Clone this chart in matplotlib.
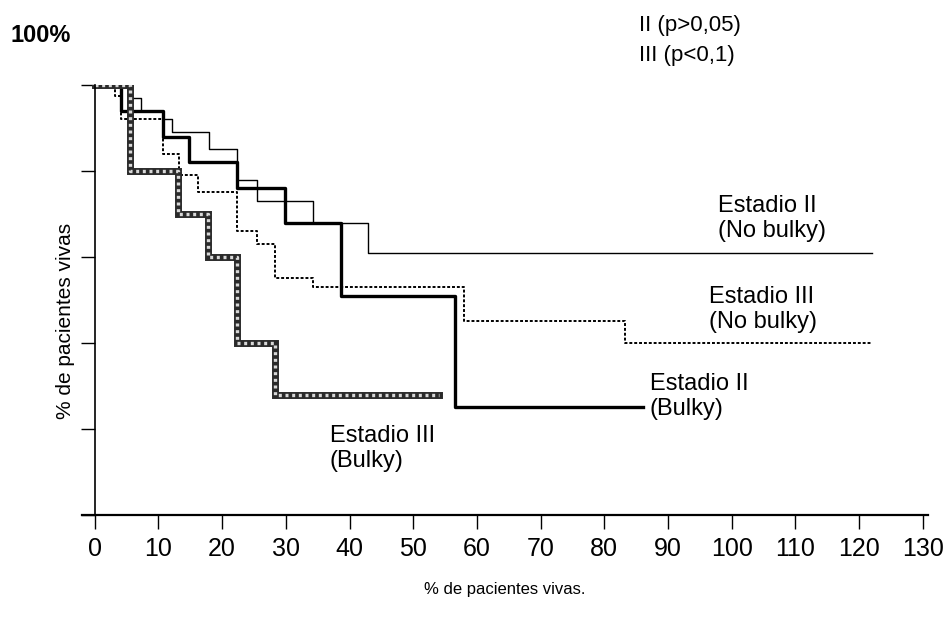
import matplotlib.pyplot as plt

plt.rcParams['font.family'] = ['Liberation Sans', 'DejaVu Sans']

# Survival steps: month where each level starts, and % alive at that level
t_ii_nobulky = [0, 5.6, 7.2, 10.7, 12.1, 17.9, 22.4, 25.4, 34.2, 42.9]
s_ii_nobulky = [100, 97, 94, 92, 89, 85, 78, 73, 68, 61]
end_ii_nobulky = 122

t_ii_bulky = [0, 4.1, 10.7, 14.8, 22.4, 29.8, 38.6, 56.5]
s_ii_bulky = [100, 94, 88, 82, 76, 68, 51, 25]
end_ii_bulky = 86

t_iii_nobulky = [0, 3.1, 4.1, 10.7, 13.2, 16.2, 22.4, 25.4, 28.3, 34.2, 57.9, 83.2]
s_iii_nobulky = [100, 97.5, 92, 84, 79, 75, 66, 63, 55, 53, 45, 40]
end_iii_nobulky = 122

t_iii_bulky = [0, 5.5, 13.0, 17.7, 22.4, 28.3]
s_iii_bulky = [100, 80, 70, 60, 40, 28]
end_iii_bulky = 54

x_ticks = list(range(0, 131, 10))
y_ticks = [0, 20, 40, 60, 80, 100]


def steps(t, s, end):
    return t + [end], s + [s[-1]]


fig = plt.figure(figsize=(9.44, 6.18), dpi=100)
ax = fig.add_axes([0.0869, 0.1667, 0.896, 0.6958])

x, y = steps(t_ii_nobulky, s_ii_nobulky, end_ii_nobulky)
ax.step(x, y, where='post', color='black', lw=1.0)

x, y = steps(t_iii_nobulky, s_iii_nobulky, end_iii_nobulky)
ax.step(x, y, where='post', color='black', lw=1.4, linestyle=(0, (1.5, 1)))

x, y = steps(t_ii_bulky, s_ii_bulky, end_ii_bulky)
ax.step(x, y, where='post', color='black', lw=2.4)

# rope-like hatched line for stage III bulky
x, y = steps(t_iii_bulky, s_iii_bulky, end_iii_bulky)
ax.step(x, y, where='post', color='#2a2a2a', lw=5.0, solid_joinstyle='miter')
ax.step(x, y, where='post', color='#d8d8d8', lw=2.4, linestyle=(0, (0.9, 1.1)))

ax.set_xlim(-2, 130.8)
ax.set_ylim(0, 100)
ax.spines['left'].set_position(('data', 0))
ax.spines['top'].set_visible(False)
ax.spines['right'].set_visible(False)
ax.spines['left'].set_linewidth(1.2)
ax.spines['bottom'].set_linewidth(1.6)

ax.set_xticks(x_ticks)
ax.set_xticklabels([str(v) for v in x_ticks], fontsize=18)
ax.set_yticks(y_ticks)
ax.set_yticklabels([])
ax.tick_params(axis='x', length=10, width=1, pad=6)
ax.tick_params(axis='y', length=10, width=1)

ax.set_xlabel('% de pacientes vivas.', fontsize=12, labelpad=15)
fig.text(0.069, 0.48, '% de pacientes vivas', rotation=90, fontsize=15,
         ha='center', va='center')

fig.text(0.011, 0.943, '100%', fontsize=17, fontweight='bold', va='center')
fig.text(0.677, 0.958, 'II (p>0,05)', fontsize=16, va='center')
fig.text(0.677, 0.911, 'III (p<0,1)', fontsize=16, va='center')

lab = dict(fontsize=17, va='center', ha='left', linespacing=1.15)
ax.text(97.8, 69.0, 'Estadio II\n(No bulky)', **lab)
ax.text(96.4, 47.8, 'Estadio III\n(No bulky)', **lab)
ax.text(87.1, 27.6, 'Estadio II\n(Bulky)', **lab)
ax.text(36.9, 15.5, 'Estadio III\n(Bulky)', **lab)

fig.savefig('out.png', dpi=100)
